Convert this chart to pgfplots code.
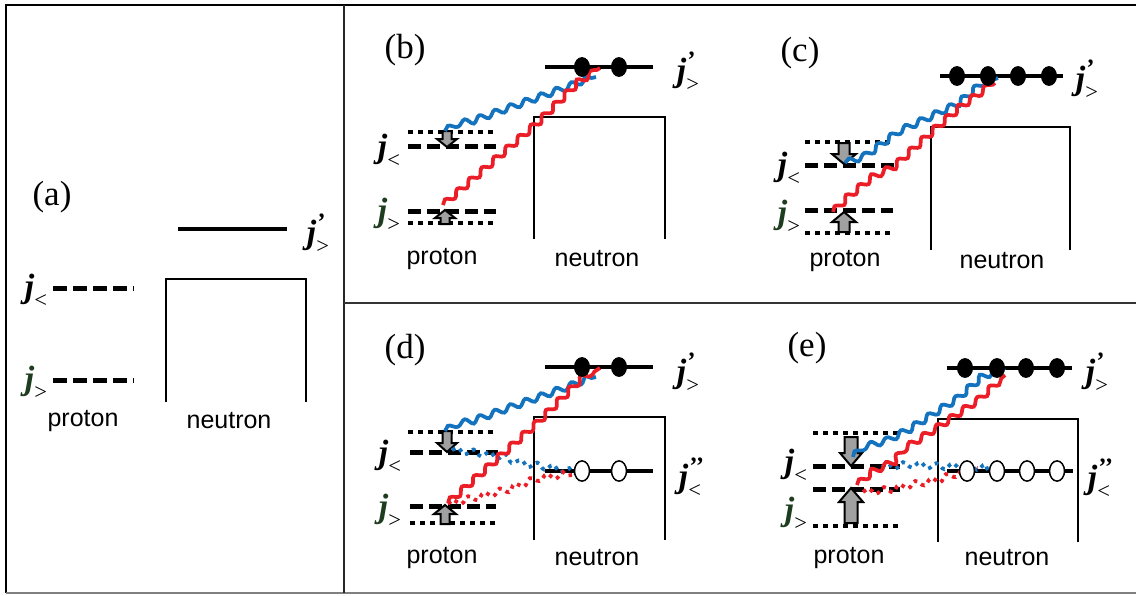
\documentclass[border=0pt]{standalone}
\usepackage{pgfplots}
\pgfplotsset{compat=1.18}
\usepackage{fontspec}
\setmainfont{Liberation Serif}
\newfontfamily\sansf{Liberation Sans}
\usetikzlibrary{decorations.pathmorphing}
\definecolor{wblue}{RGB}{20,115,190}
\definecolor{wred}{RGB}{235,30,40}
\definecolor{jgreen}{RGB}{30,60,30}
\definecolor{agray}{RGB}{160,160,160}
\newcommand{\jlab}[3][black]{{\color{#1}\fontsize{13.5}{13.5}\selectfont\bfseries\itshape j}\rlap{\raisebox{5.2pt}{\fontsize{10}{10}\selectfont\bfseries\itshape #2}}\raisebox{-4pt}{\fontsize{9}{9}\selectfont #3}}
\newcommand{\lab}[1]{{\sansf\fontsize{10}{10}\selectfont #1}}
\newcommand{\pan}[1]{{\fontsize{14}{14}\selectfont (#1)}}
\begin{document}
\begin{tikzpicture}
\begin{axis}[width=454.4pt, height=238pt, scale only axis,
  xmin=0, xmax=1136, ymin=0, ymax=595, y dir=reverse,
  hide axis, clip=false,
  jlev/.style={black, line width=2pt, dash pattern=on 5.2pt off 2.4pt},
  dots/.style={black, line width=1.4pt, dash pattern=on 2pt off 2pt},
  box/.style={black, line width=0.6pt},
  lev/.style={black, line width=1.6pt},
  wave/.style={line width=1.5pt, decorate, decoration={snake, amplitude=1.2pt, segment length=6.5pt}},
  dwave/.style={line width=1.5pt, dash pattern=on 1.5pt off 1.8pt, decorate, decoration={snake, amplitude=1.2pt, segment length=6.5pt}},
  arr/.style={draw=black, fill=agray, line width=0.8pt},
  fdot/.style={only marks, mark=*, mark size=3pt, mark options={fill=black, draw=black, yscale=1.25}},
  odot/.style={only marks, mark=*, mark size=3pt, mark options={fill=white, draw=black, line width=0.6pt, yscale=1.35}},
]
% frame
\addplot[black, line width=0.8pt] coordinates {(1136,5) (6,5) (6,593)};
\addplot[gray, line width=0.6pt] coordinates {(6,593) (1136,593)};
\addplot[black!85, line width=0.8pt] coordinates {(344,5) (344,593)};
\addplot[black!80, line width=0.6pt] coordinates {(344,303) (1136,303)};

% ---------- panel (a)
\node at (axis cs:52,197) {\pan{a}};
\addplot[lev] coordinates {(178,229) (287,229)};
\addplot[box] coordinates {(166,402) (166,279) (306,279) (306,402)};
\addplot[black, line width=2pt, dash pattern=on 5.6pt off 2.4pt] coordinates {(53,288) (134,288)};
\addplot[black, line width=2pt, dash pattern=on 5.6pt off 2.4pt] coordinates {(53,380) (134,380)};
\node at (axis cs:36,291) {\jlab{}{<}};
\node at (axis cs:36,383) {\jlab[jgreen]{}{>}};
\node at (axis cs:318,234) {\jlab{’}{>}};
\node at (axis cs:83,421) {\lab{proton}};
\node at (axis cs:229,421) {\lab{neutron}};

% ---------- panel (b)
\node at (axis cs:405,50) {\pan{b}};
\addplot[box] coordinates {(534,239) (534,117) (665,117) (665,239)};
\addplot[lev] coordinates {(545,67) (653,67)};
\addplot[dots] coordinates {(408,132) (496,132)};
\addplot[jlev] coordinates {(408,146) (496,146)};
\addplot[jlev] coordinates {(408,211) (496,211)};
\addplot[dots] coordinates {(408,223) (496,223)};
\addplot[arr] coordinates {(442.5,131) (451.5,131) (451.5,139) (457,139) (447,147) (437,139) (442.5,139)} -- cycle;
\addplot[arr] coordinates {(440.5,224) (449.5,224) (449.5,218) (455,218) (445,210) (435,218) (440.5,218)} -- cycle;
\addplot[wave, wblue] coordinates {(445,131) (455,125) (470,122) (565,88) (583,80) (596,77)};
\addplot[wave, wred] coordinates {(443,205) (535,125) (578,82) (600,68)};
\addplot[fdot] coordinates {(582,67) (619,67)};
\node at (axis cs:389,151) {\jlab{}{<}};
\node at (axis cs:389,215) {\jlab[jgreen]{}{>}};
\node at (axis cs:688,72) {\jlab{’}{>}};
\node at (axis cs:442,259) {\lab{proton}};
\node at (axis cs:597,259) {\lab{neutron}};

% ---------- panel (c)
\node at (axis cs:800,53) {\pan{c}};
\addplot[box] coordinates {(931,250) (931,127) (1070,127) (1070,250)};
\addplot[lev] coordinates {(940,76) (1063,76)};
\addplot[dots] coordinates {(805,142) (893,142)};
\addplot[jlev] coordinates {(805,165) (897,165)};
\addplot[jlev] coordinates {(805,210) (893,210)};
\addplot[dots] coordinates {(805,233) (893,233)};
\addplot[arr] coordinates {(838.5,143) (849.5,143) (849.5,154) (856,154) (844,164) (832,154) (838.5,154)} -- cycle;
\addplot[arr] coordinates {(838.5,232) (849.5,232) (849.5,222) (856,222) (844,212) (832,222) (838.5,222)} -- cycle;
\addplot[wave, wblue] coordinates {(845,163) (862,157) (892,135) (918,123) (952,107) (978,85) (998,78)};
\addplot[wave, wred] coordinates {(833,212) (845,200) (872,178) (895,167) (932,133) (962,107) (995,83)};
\addplot[fdot] coordinates {(957,76) (988,76) (1018,76) (1049,76)};
\node at (axis cs:789,169) {\jlab{}{<}};
\node at (axis cs:789,217) {\jlab[jgreen]{}{>}};
\node at (axis cs:1087,80) {\jlab{’}{>}};
\node at (axis cs:845,261) {\lab{proton}};
\node at (axis cs:1002,261) {\lab{neutron}};

% ---------- panel (d)
\node at (axis cs:405,350) {\pan{d}};
\addplot[box] coordinates {(534,540) (534,417) (665,417) (665,540)};
\addplot[lev] coordinates {(545,367) (653,367)};
\addplot[lev] coordinates {(545,471) (653,471)};
\addplot[dots] coordinates {(408,432) (496,432)};
\addplot[jlev] coordinates {(410,452) (498,452)};
\addplot[jlev] coordinates {(410,506) (496,506)};
\addplot[dots] coordinates {(410,523) (496,523)};
\addplot[arr] coordinates {(442.5,431) (451.5,431) (451.5,443) (457,443) (447,452) (437,443) (442.5,443)} -- cycle;
\addplot[arr] coordinates {(440.5,524) (449.5,524) (449.5,514) (456,514) (445,505) (434,514) (440.5,514)} -- cycle;
\addplot[dwave, wblue] coordinates {(452,450) (478,453) (502,457) (518,463) (545,467) (575,473)};
\addplot[dwave, wred] coordinates {(448,504) (478,497) (505,490) (532,480) (572,475)};
\addplot[wave, wblue] coordinates {(445,431) (455,425) (470,422) (565,388) (583,380) (596,377)};
\addplot[wave, wred] coordinates {(448,503) (535,425) (578,382) (600,368)};
\addplot[fdot] coordinates {(582,367) (619,367)};
\addplot[odot] coordinates {(582,471) (619,471)};
\node at (axis cs:390,457) {\jlab{}{<}};
\node at (axis cs:390,511) {\jlab[jgreen]{}{>}};
\node at (axis cs:688,373) {\jlab{’}{>}};
\node at (axis cs:690,478) {\jlab{’’}{<}};
\node at (axis cs:442,558) {\lab{proton}};
\node at (axis cs:597,558) {\lab{neutron}};

% ---------- panel (e)
\node at (axis cs:807,348) {\pan{e}};
\addplot[box] coordinates {(938,542) (938,419) (1078,419) (1078,542)};
\addplot[lev] coordinates {(947,368) (1072,368)};
\addplot[lev] coordinates {(947,471) (1073,471)};
\addplot[dots] coordinates {(813,433) (900,433)};
\addplot[jlev] coordinates {(813,466) (900,466)};
\addplot[jlev] coordinates {(813,489) (900,489)};
\addplot[dots] coordinates {(813,526) (900,526)};
\addplot[arr] coordinates {(844.5,437) (857.5,437) (857.5,453) (862,453) (851,466) (840,453) (844.5,453)} -- cycle;
\addplot[arr] coordinates {(844.5,523) (857.5,523) (857.5,502) (863,502) (851,488) (839,502) (844.5,502)} -- cycle;
\addplot[dwave, wblue] coordinates {(882,467) (905,465) (932,467) (952,467) (978,468) (992,472)};
\addplot[dwave, wred] coordinates {(863,492) (885,490) (905,485) (932,480) (952,473) (978,468)};
\addplot[wave, wblue] coordinates {(853,457) (860,450) (885,443) (905,433) (925,420) (952,403) (978,380) (1005,368)};
\addplot[wave, wred] coordinates {(857,485) (872,472) (892,463) (902,450) (938,427) (978,400) (1005,375)};
\addplot[fdot] coordinates {(965,368) (997,368) (1026,368) (1057,368)};
\addplot[odot] coordinates {(967,471) (997,471) (1027,471) (1057,471)};
\node at (axis cs:796,466) {\jlab{}{<}};
\node at (axis cs:796,514) {\jlab[jgreen]{}{>}};
\node at (axis cs:1097,373) {\jlab{’}{>}};
\node at (axis cs:1099,479) {\jlab{’’}{<}};
\node at (axis cs:849,558) {\lab{proton}};
\node at (axis cs:1007,558) {\lab{neutron}};
\end{axis}
\pgfresetboundingbox
\path[use as bounding box] (current axis.south west) rectangle (current axis.north east);
\end{tikzpicture}
\end{document}
